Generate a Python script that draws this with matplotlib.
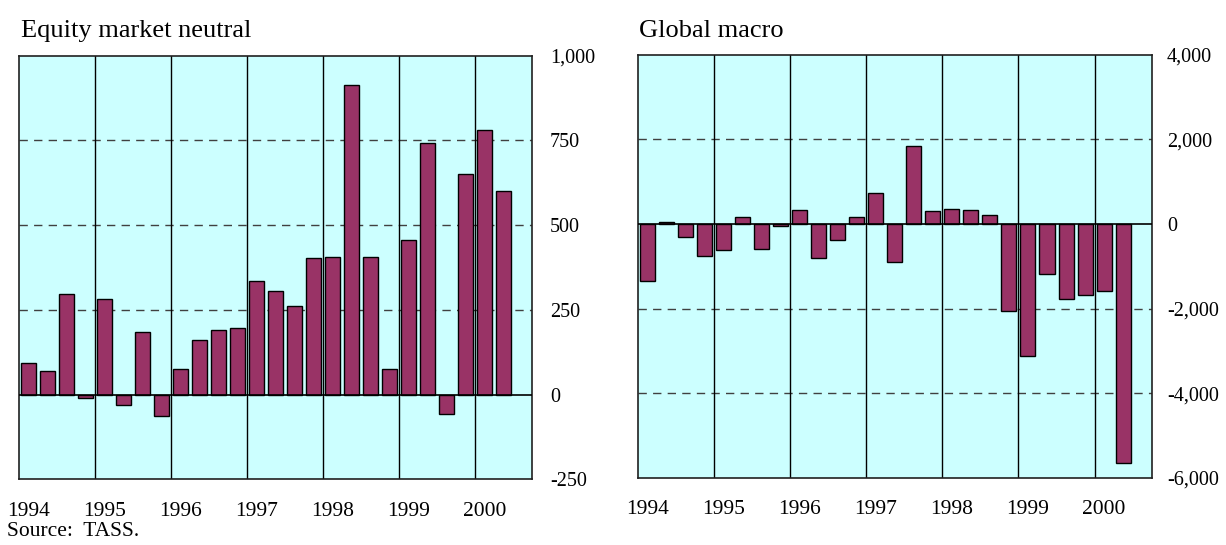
import matplotlib
matplotlib.use("Agg")
import matplotlib.pyplot as plt
import numpy as np

plt.rcParams['font.family'] = ['Liberation Serif', 'DejaVu Serif']

# Quarterly data, 1994Q1 .. 2000Q2
years = ["1994", "1995", "1996", "1997", "1998", "1999", "2000"]
equity_market_neutral = [92, 69, 296, -10,
                         281, -30, 186, -64,
                         76, 162, 190, 197,
                         334, 306, 261, 402,
                         406, 915, 407, 76,
                         455, 742, -58, 651,
                         781, 600]
global_macro = [-1349, 47, -316, -750,
                -615, 174, -600, -55,
                339, -813, -371, 174,
                742, -892, 1854, 300,
                363, 339, 205, -2043,
                -3124, -1191, -1767, -1673,
                -1578, -5649]

n_slots = 27
W, H = 1226, 545
fig = plt.figure(figsize=(W / 100, H / 100), dpi=100)

bar_color = "#993366"
bg_color = "#CCFFFF"


def make_panel(rect, values, ylim, yticks, yticklabels, gridvals, title, tick_pad):
    ax = fig.add_axes(rect)
    ax.set_facecolor(bg_color)
    x = np.arange(len(values))
    ax.set_xlim(-0.5, n_slots - 0.5)
    ax.set_ylim(*ylim)
    for g in gridvals:
        ax.axhline(g, color="#404040", lw=1.0, ls=(0, (6, 4.5)), zorder=1)
    for k in range(1, 7):
        ax.axvline(4 * k - 0.5, color="black", lw=1.0, zorder=1)
    ax.bar(x, values, width=0.79, color=bar_color, edgecolor="black",
           linewidth=1.0, zorder=2)
    ax.axhline(0, color="black", lw=1.2, zorder=3)
    ax.yaxis.tick_right()
    ax.set_yticks(yticks)
    ax.set_yticklabels(yticklabels)
    ax.tick_params(axis="y", length=0, pad=tick_pad, labelsize=14.5)
    for lab in ax.get_yticklabels():
        lab.set_horizontalalignment("left")
    ax.set_xticks([4 * i for i in range(len(years))])
    ax.set_xticklabels(years)
    ax.tick_params(axis="x", length=0, pad=16, labelsize=15.5)
    for s in ax.spines.values():
        s.set_color("#202020")
        s.set_linewidth(1.2)
    fig.text(rect[0] + 0.001, 1 - 37 / H, title, fontsize=19, ha="left",
             va="baseline")
    return ax


make_panel([19.3 / W, 1 - 479.3 / H, 512.4 / W, 423.6 / H],
           equity_market_neutral, (-250, 1000),
           [-250, 0, 250, 500, 750, 1000],
           ["-250", "0", "250", "500", "750", "1,000"],
           [250, 500, 750], "Equity market neutral", 13)

make_panel([637.7 / W, 1 - 478 / H, 514 / W, 423.3 / H],
           global_macro, (-6000, 4000),
           [-6000, -4000, -2000, 0, 2000, 4000],
           ["-6,000", "-4,000", "-2,000", "0", "2,000", "4,000"],
           [-4000, -2000, 2000], "Global macro", 11)

fig.text(7 / W, 1 - 531 / H, "Source:  TASS.", fontsize=15.5, ha="left",
         va="center")

fig.savefig("out.png", dpi=100)
